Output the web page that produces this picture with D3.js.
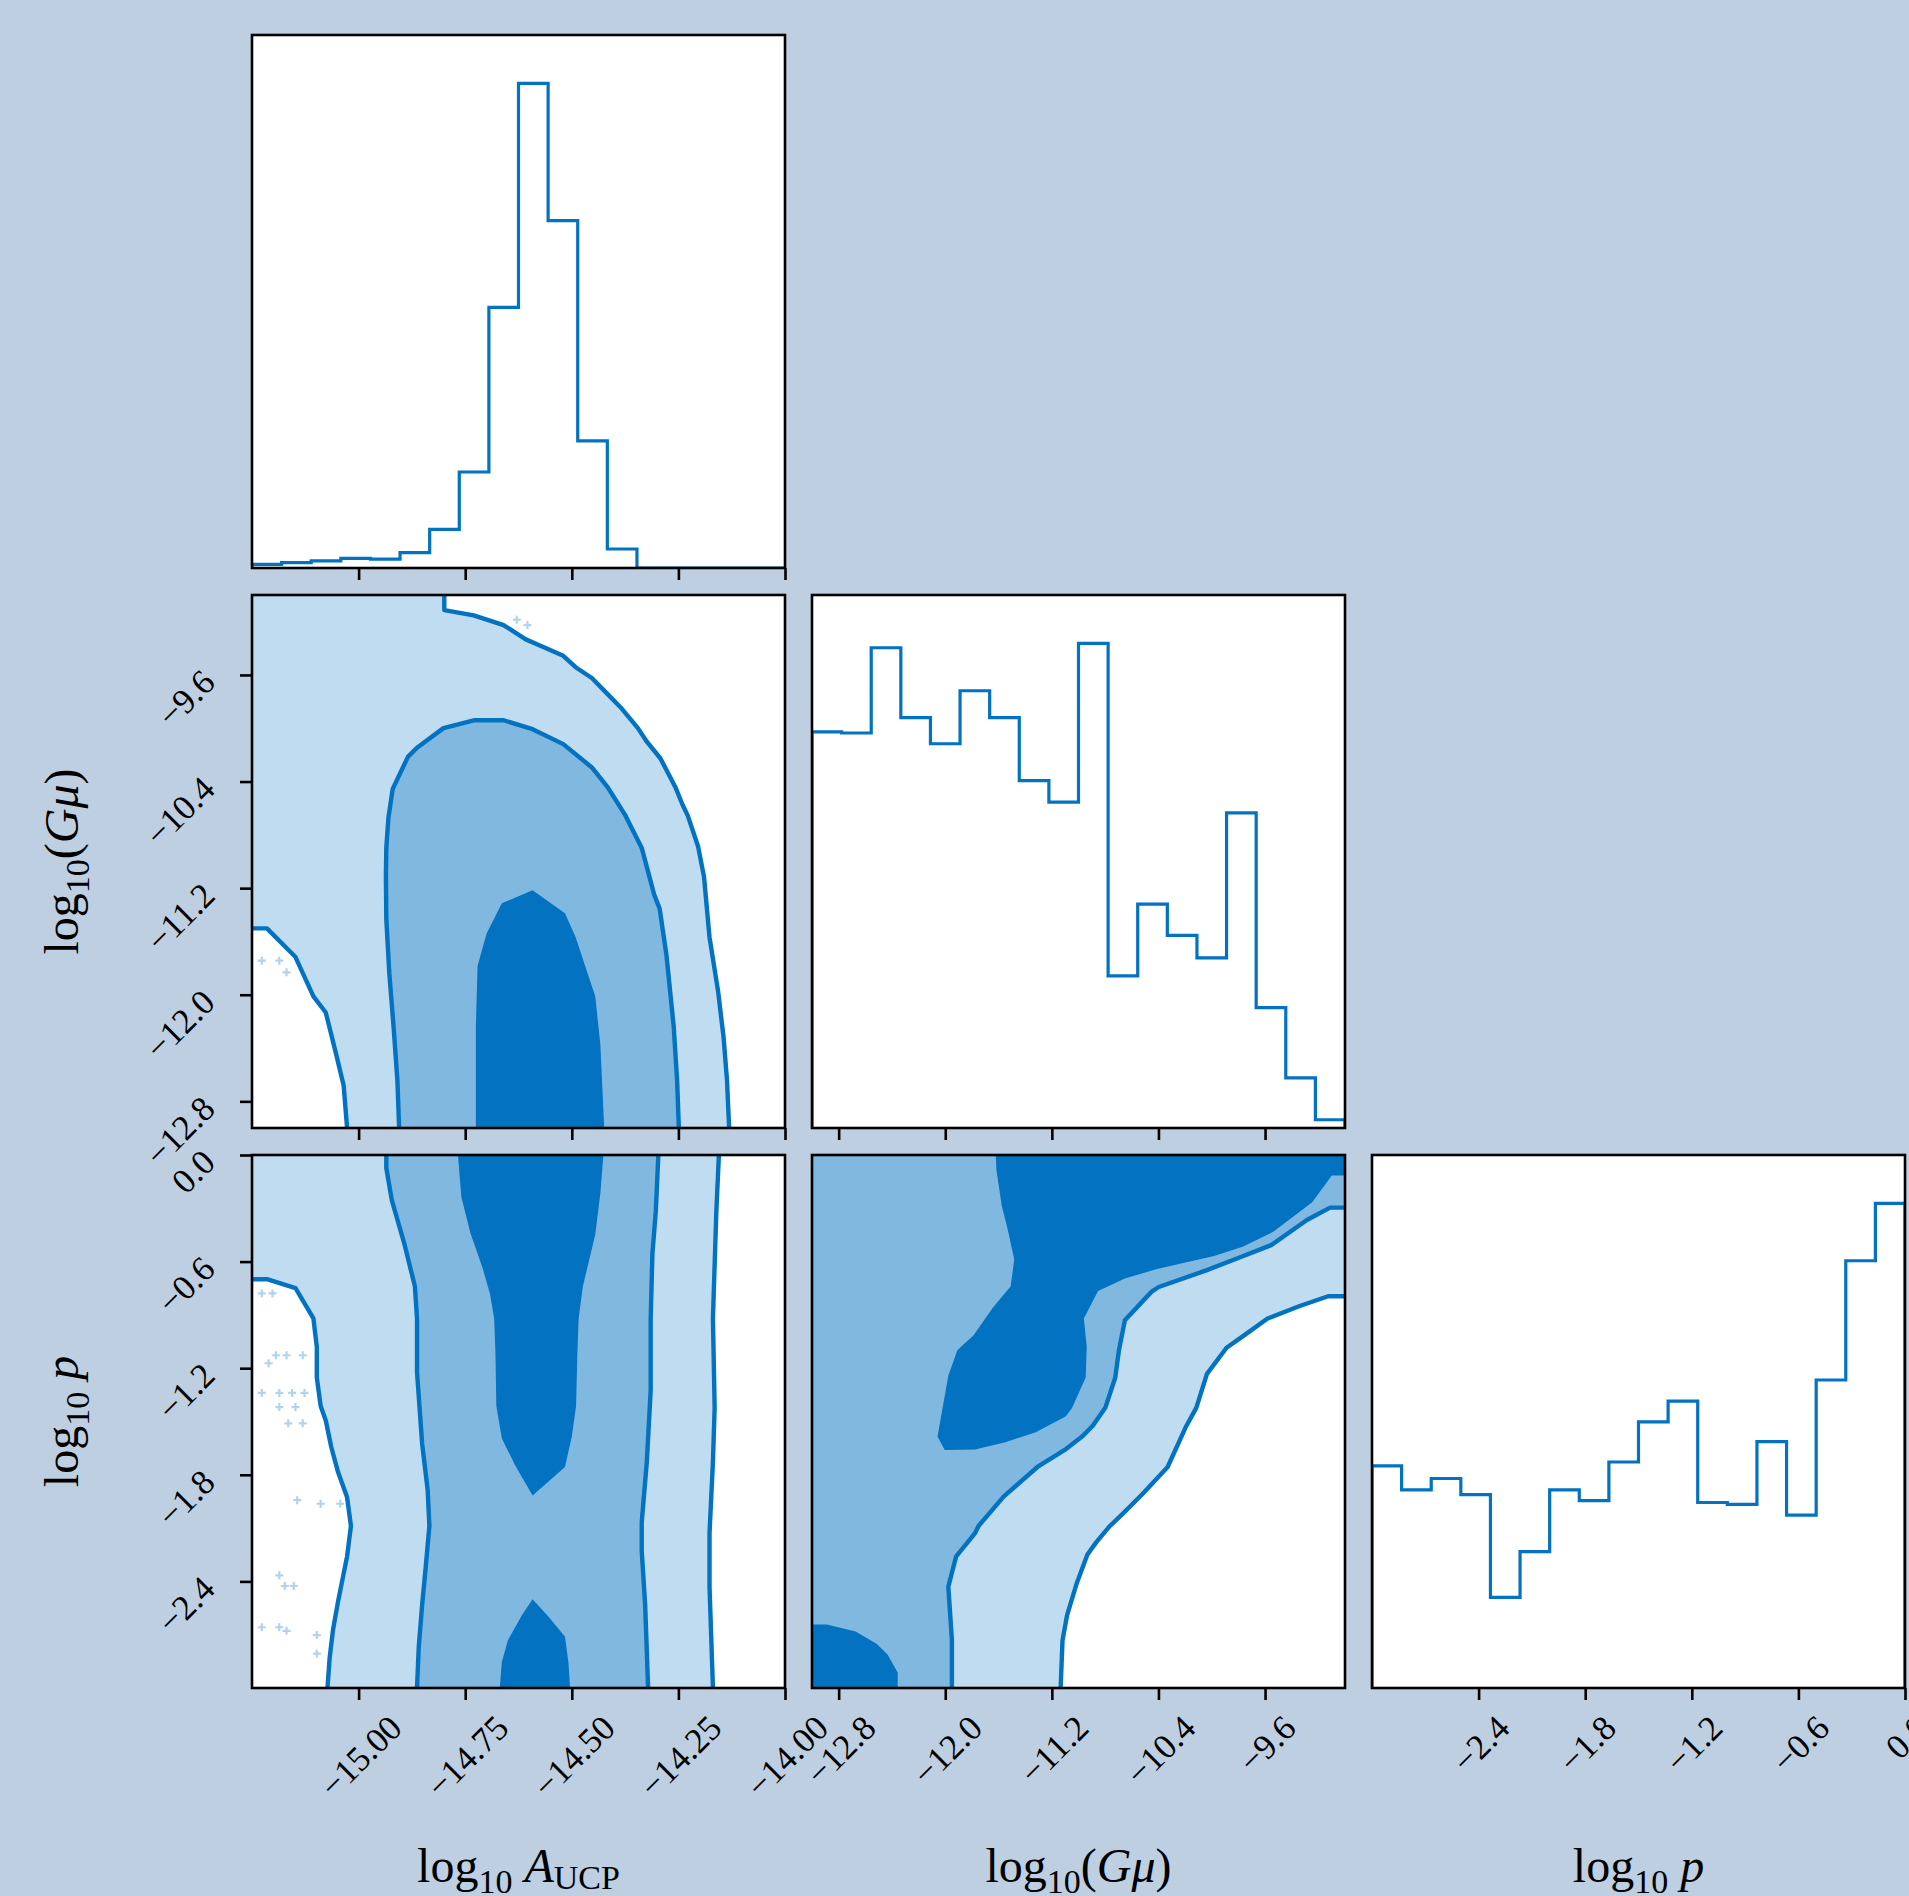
<!DOCTYPE html>
<html>
<head>
  <meta charset="utf-8">
  <script src="https://cdn.jsdelivr.net/npm/d3@7"></script>
  <style>
    body { margin: 0; background: #bdcfe0; }
    svg { display: block; }
    text { font-family: "Liberation Serif", "DejaVu Serif", serif; fill: #000; }
  </style>
</head>
<body>
<svg id="chart"></svg>
<script>
// parameter ranges and ticks
var rangeA = [-15.25, -14.0];
var rangeG = [-13.0, -9.0];
var rangeP = [-3.0, 0.0];
var ticksA = [-15.0, -14.75, -14.5, -14.25, -14.0];
var ticksG = [-12.8, -12.0, -11.2, -10.4, -9.6];
var ticksP = [-2.4, -1.8, -1.2, -0.6, 0.0];

// 1d histograms, 18 bins over each range (counts)
var histA = [10, 15, 20, 27, 25, 43, 108, 268, 728, 1353, 970, 355, 53, 0, 0, 0, 0, 0];
var histG = [1106, 1103, 1341, 1146, 1073, 1221, 1146, 970, 910, 1353, 425, 625, 538, 475, 880, 336, 140, 23];
var histP = [620, 553, 585, 540, 253, 381, 553, 523, 631, 743, 801, 518, 513, 688, 483, 860, 1193, 1353];

// contour outlines, A vs G panel
var agOuterHi = [[-14.799,-9.0],[-14.799,-9.113],[-14.730,-9.153],[-14.660,-9.226],[-14.608,-9.333],[-14.583,-9.368],[-14.520,-9.456],[-14.491,-9.542],[-14.453,-9.623],[-14.416,-9.744],[-14.382,-9.856],[-14.345,-9.999],[-14.324,-10.101],[-14.292,-10.227],[-14.257,-10.442],[-14.240,-10.576],[-14.228,-10.656],[-14.204,-10.885],[-14.190,-11.113],[-14.177,-11.569],[-14.157,-11.972],[-14.144,-12.321],[-14.136,-12.643],[-14.131,-13.0]];
var agOuterLo = [[-15.25,-11.502],[-15.215,-11.502],[-15.148,-11.717],[-15.106,-12.012],[-15.077,-12.133],[-15.052,-12.455],[-15.035,-12.683],[-15.027,-13.0]];
var agMid = [[-14.905,-13.0],[-14.909,-12.643],[-14.918,-12.240],[-14.928,-11.838],[-14.935,-11.435],[-14.936,-11.113],[-14.935,-10.898],[-14.930,-10.670],[-14.920,-10.455],[-14.884,-10.213],[-14.863,-10.146],[-14.801,-9.999],[-14.730,-9.940],[-14.660,-9.940],[-14.592,-10.007],[-14.520,-10.119],[-14.453,-10.294],[-14.416,-10.442],[-14.374,-10.656],[-14.336,-10.898],[-14.307,-11.247],[-14.294,-11.354],[-14.278,-11.703],[-14.261,-12.240],[-14.253,-12.643],[-14.249,-13.0]];
var agCore = [[-14.725,-13.0],[-14.725,-12.240],[-14.721,-11.784],[-14.700,-11.542],[-14.664,-11.314],[-14.592,-11.215],[-14.516,-11.389],[-14.491,-11.569],[-14.466,-11.811],[-14.445,-12.012],[-14.433,-12.375],[-14.424,-13.0]];
var agPoints = [[-15.227,-11.744],[-15.186,-11.744],[-15.169,-11.832],[-14.629,-9.185],[-14.604,-9.226]];

// A vs p panel
var apOuterL = [[-15.25,-0.699],[-15.215,-0.699],[-15.148,-0.749],[-15.106,-0.920],[-15.098,-1.081],[-15.098,-1.252],[-15.089,-1.413],[-15.077,-1.494],[-15.064,-1.645],[-15.048,-1.786],[-15.027,-1.927],[-15.018,-2.088],[-15.027,-2.259],[-15.048,-2.511],[-15.060,-2.672],[-15.068,-2.833],[-15.073,-3.0]];
var apMidL = [[-14.935,0],[-14.935,-0.074],[-14.922,-0.256],[-14.893,-0.497],[-14.868,-0.739],[-14.863,-0.920],[-14.863,-1.222],[-14.851,-1.625],[-14.838,-1.887],[-14.834,-2.088],[-14.843,-2.330],[-14.851,-2.531],[-14.859,-2.772],[-14.863,-3.0]];
var apMidR = [[-14.297,0],[-14.303,-0.316],[-14.311,-0.558],[-14.315,-0.920],[-14.315,-1.323],[-14.324,-1.725],[-14.336,-2.068],[-14.336,-2.229],[-14.328,-2.531],[-14.321,-3.0]];
var apOuterR = [[-14.155,0],[-14.161,-0.316],[-14.169,-0.920],[-14.165,-1.423],[-14.169,-1.725],[-14.177,-2.128],[-14.177,-2.430],[-14.169,-3.0]];
var apCoreHi = [[-14.767,0],[-14.759,-0.236],[-14.738,-0.437],[-14.709,-0.638],[-14.692,-0.779],[-14.682,-0.920],[-14.679,-1.121],[-14.677,-1.413],[-14.664,-1.595],[-14.633,-1.746],[-14.592,-1.917],[-14.516,-1.756],[-14.500,-1.585],[-14.490,-1.413],[-14.487,-1.121],[-14.484,-0.920],[-14.474,-0.739],[-14.445,-0.447],[-14.433,-0.215],[-14.426,0]];
var apCoreLo = [[-14.669,-3.0],[-14.664,-2.853],[-14.650,-2.732],[-14.617,-2.591],[-14.592,-2.501],[-14.554,-2.601],[-14.516,-2.712],[-14.508,-2.853],[-14.504,-3.0]];
var apPoints = [[-15.227,-0.779],[-15.202,-0.779],[-15.194,-1.127],[-15.169,-1.127],[-15.131,-1.127],[-15.211,-1.172],[-15.227,-1.339],[-15.186,-1.339],[-15.156,-1.339],[-15.127,-1.339],[-15.186,-1.419],[-15.148,-1.419],[-15.165,-1.510],[-15.131,-1.510],[-15.144,-1.943],[-15.089,-1.963],[-15.043,-1.963],[-15.186,-2.366],[-15.173,-2.426],[-15.152,-2.426],[-15.227,-2.658],[-15.186,-2.658],[-15.169,-2.678],[-15.098,-2.702],[-15.098,-2.807]];

// G vs p panel
var gpCoreHi = [[-11.621,0],[-11.616,-0.085],[-11.576,-0.286],[-11.535,-0.407],[-11.482,-0.588],[-11.509,-0.739],[-11.643,-0.860],[-11.790,-1.017],[-11.870,-1.071],[-11.910,-1.101],[-11.977,-1.242],[-12.058,-1.585],[-12.004,-1.661],[-11.776,-1.657],[-11.549,-1.617],[-11.321,-1.560],[-11.094,-1.470],[-11.048,-1.423],[-10.946,-1.252],[-10.938,-1.081],[-10.960,-0.920],[-10.853,-0.765],[-10.652,-0.695],[-10.411,-0.642],[-9.983,-0.568],[-9.768,-0.517],[-9.541,-0.433],[-9.246,-0.266],[-9.099,-0.115],[-9.0,-0.115],[-9.0,0]];
var gpMid = [[-11.950,-3.0],[-11.950,-2.732],[-11.977,-2.430],[-11.918,-2.259],[-11.776,-2.128],[-11.750,-2.088],[-11.562,-1.923],[-11.308,-1.756],[-11.094,-1.655],[-10.973,-1.585],[-10.893,-1.524],[-10.799,-1.423],[-10.724,-1.252],[-10.697,-1.101],[-10.652,-0.930],[-10.451,-0.769],[-10.398,-0.743],[-10.036,-0.648],[-9.782,-0.574],[-9.554,-0.507],[-9.286,-0.366],[-9.112,-0.296],[-9.0,-0.296]];
var gpOuter = [[-11.134,-3.0],[-11.120,-2.732],[-11.086,-2.591],[-11.013,-2.410],[-10.933,-2.249],[-10.866,-2.179],[-10.772,-2.094],[-10.665,-2.017],[-10.518,-1.907],[-10.331,-1.756],[-10.197,-1.534],[-10.116,-1.423],[-10.036,-1.232],[-9.889,-1.085],[-9.768,-1.021],[-9.581,-0.920],[-9.340,-0.850],[-9.126,-0.795],[-9.0,-0.795]];
var gpCoreLo = [[-13.0,-2.642],[-12.888,-2.642],[-12.673,-2.682],[-12.513,-2.752],[-12.432,-2.813],[-12.357,-2.913],[-12.357,-3.0],[-13.0,-3.0]];

var width = 1909, height = 1896;
var marginLeft = 252, marginTop = 35, size = 533, step = 560;
var blue = "#0272c1", mid = "#80b8e0", light = "#c0dcf0";
var tickFont = 35;

var svg = d3.select("#chart").attr("width", width).attr("height", height);
svg.append("rect").attr("width", width).attr("height", height).attr("fill", "#bdcfe0");

var fmt2 = d3.format(".2f"), fmt1 = d3.format(".1f");

function makePanel(col, row, id) {
  var g = svg.append("g").attr("transform", "translate(" + (marginLeft + col*step) + "," + (marginTop + row*step) + ")");
  g.append("clipPath").attr("id", id).append("rect").attr("width", size).attr("height", size);
  var inner = g.append("g").attr("clip-path", "url(#" + id + ")");
  return {g: g, inner: inner};
}

function xAxis(g, scale, ticks, fmt, labels) {
  var ax = g.append("g").attr("transform", "translate(0," + size + ")")
    .call(d3.axisBottom(scale).tickValues(ticks).tickSize(12).tickSizeOuter(0).tickFormat(labels ? fmt : ""));
  ax.select(".domain").remove();
  ax.selectAll(".tick line").attr("stroke", "#000").attr("stroke-width", 2.6);
  if (labels) {
    ax.selectAll(".tick text").attr("y", null).attr("dy", null)
      .attr("font-size", tickFont).attr("text-anchor", "middle")
      .attr("transform", function() {
        var L = this.getComputedTextLength();
        return "translate(10," + (42 + 0.3536*L) + ") rotate(-45)";
      });
  } else {
    ax.selectAll(".tick text").remove();
  }
}

function yAxis(g, scale, ticks, fmt) {
  var ax = g.append("g")
    .call(d3.axisLeft(scale).tickValues(ticks).tickSize(12).tickSizeOuter(0).tickFormat(fmt));
  ax.select(".domain").remove();
  ax.selectAll(".tick line").attr("stroke", "#000").attr("stroke-width", 2.6);
  ax.selectAll(".tick text").attr("x", null).attr("dy", null)
    .attr("font-size", tickFont).attr("text-anchor", "end")
    .attr("transform", "translate(-35,9) rotate(-45)");
}

function frame(g) {
  g.append("rect").attr("width", size).attr("height", size)
    .attr("fill", "none").attr("stroke", "#000").attr("stroke-width", 2.6);
}

function histPanel(col, row, id, range, counts, ticks, fmt, labels) {
  var p = makePanel(col, row, id);
  var x = d3.scaleLinear().domain(range).range([0, size]);
  var y = d3.scaleLinear().domain([0, 1.1*d3.max(counts)]).range([size, 0]);
  p.inner.append("rect").attr("width", size).attr("height", size).attr("fill", "#fff");
  var n = counts.length, w = (range[1] - range[0]) / n;
  var pts = [[range[0], 0]];
  counts.forEach(function(c, i) {
    pts.push([range[0] + i*w, c]);
    pts.push([range[0] + (i+1)*w, c]);
  });
  pts.push([range[1], 0]);
  p.inner.append("path").datum(pts)
    .attr("d", d3.line().x(function(d) { return x(d[0]); }).y(function(d) { return y(d[1]); }))
    .attr("fill", "none").attr("stroke", blue).attr("stroke-width", 3.2);
  frame(p.g);
  xAxis(p.g, x, ticks, fmt, labels);
  return p;
}

function contourPanel(col, row, id, xr, yr, base, fills, lines, points) {
  var p = makePanel(col, row, id);
  var x = d3.scaleLinear().domain(xr).range([0, size]);
  var y = d3.scaleLinear().domain(yr).range([size, 0]);
  var line = d3.line().x(function(d) { return x(d[0]); }).y(function(d) { return y(d[1]); });
  p.inner.append("rect").attr("width", size).attr("height", size).attr("fill", base);
  fills.forEach(function(f) {
    p.inner.append("path").datum(f.pts).attr("d", function(d) { return line(d) + "Z"; })
      .attr("fill", f.color).attr("stroke", "none");
  });
  p.inner.selectAll("path.pt").data(points || []).enter().append("path").attr("class", "pt")
    .attr("transform", function(d) { return "translate(" + x(d[0]) + "," + y(d[1]) + ")"; })
    .attr("d", "M-4,0H4M0,-4V4").attr("stroke", blue).attr("stroke-width", 2.2).attr("opacity", 0.3);
  lines.forEach(function(l) {
    p.inner.append("path").datum(l).attr("d", line)
      .attr("fill", "none").attr("stroke", blue).attr("stroke-width", 4.4).attr("stroke-linejoin", "round");
  });
  frame(p.g);
  return {g: p.g, x: x, y: y};
}

// diagonal histograms
histPanel(0, 0, "c00", rangeA, histA, ticksA, fmt2, false);
histPanel(1, 1, "c11", rangeG, histG, ticksG, fmt1, false);
histPanel(2, 2, "c22", rangeP, histP, ticksP, fmt1, true);

// A vs G
var pAG = contourPanel(0, 1, "c01", rangeA, rangeG, light, [
  {pts: agOuterHi.concat([[rangeA[1], rangeG[0]], [rangeA[1], rangeG[1]]]), color: "#fff"},
  {pts: agOuterLo.concat([[rangeA[0], rangeG[0]]]), color: "#fff"},
  {pts: agMid, color: mid},
  {pts: agCore, color: blue}
], [agOuterHi, agOuterLo, agMid], agPoints);
xAxis(pAG.g, pAG.x, ticksA, fmt2, false);
yAxis(pAG.g, pAG.y, ticksG, fmt1);

// A vs p
var pAP = contourPanel(0, 2, "c02", rangeA, rangeP, light, [
  {pts: apOuterL.concat([[rangeA[0], rangeP[0]]]), color: "#fff"},
  {pts: apOuterR.concat([[rangeA[1], rangeP[0]], [rangeA[1], rangeP[1]]]), color: "#fff"},
  {pts: apMidL.concat(apMidR.slice().reverse()), color: mid},
  {pts: apCoreHi, color: blue},
  {pts: apCoreLo, color: blue}
], [apOuterL, apMidL, apMidR, apOuterR], apPoints);
xAxis(pAP.g, pAP.x, ticksA, fmt2, true);
yAxis(pAP.g, pAP.y, ticksP.slice().reverse(), fmt1);

// G vs p
var pGP = contourPanel(1, 2, "c12", rangeG, rangeP, mid, [
  {pts: gpMid.concat([[rangeG[1], rangeP[0]]]), color: light},
  {pts: gpOuter.concat([[rangeG[1], rangeP[0]]]), color: "#fff"},
  {pts: gpCoreHi, color: blue},
  {pts: gpCoreLo, color: blue}
], [gpMid, gpOuter], []);
xAxis(pGP.g, pGP.x, ticksG, fmt1, true);

// axis labels
function addLabel(t, parts) {
  parts.forEach(function(p) {
    var s = t.append("tspan").text(p.t);
    if (p.sub) s.attr("font-size", 34);
    if (p.it) s.attr("font-style", "italic");
    if (p.dy) s.attr("dy", p.dy);
  });
}
var labA = [{t: "log"}, {t: "10", sub: true, dy: 11}, {t: "\u00a0"}, {t: "A", it: true, dy: -11}, {t: "UCP", sub: true, dy: 7}];
var labG = [{t: "log"}, {t: "10", sub: true, dy: 11}, {t: "(", dy: -11}, {t: "G\u03bc", it: true}, {t: ")"}];
var labP = [{t: "log"}, {t: "10", sub: true, dy: 11}, {t: "\u00a0"}, {t: "p", it: true, dy: -11}];

[labA, labG, labP].forEach(function(parts, i) {
  var t = svg.append("text").attr("font-size", 48).attr("text-anchor", "middle")
    .attr("x", marginLeft + i*step + size/2).attr("y", 1882);
  addLabel(t, parts);
});
[labG, labP].forEach(function(parts, i) {
  var cy = marginTop + (i+1)*step + size/2;
  var t = svg.append("text").attr("font-size", 48).attr("text-anchor", "middle")
    .attr("transform", "translate(78," + cy + ") rotate(-90)");
  addLabel(t, parts);
});
</script>
</body>
</html>
